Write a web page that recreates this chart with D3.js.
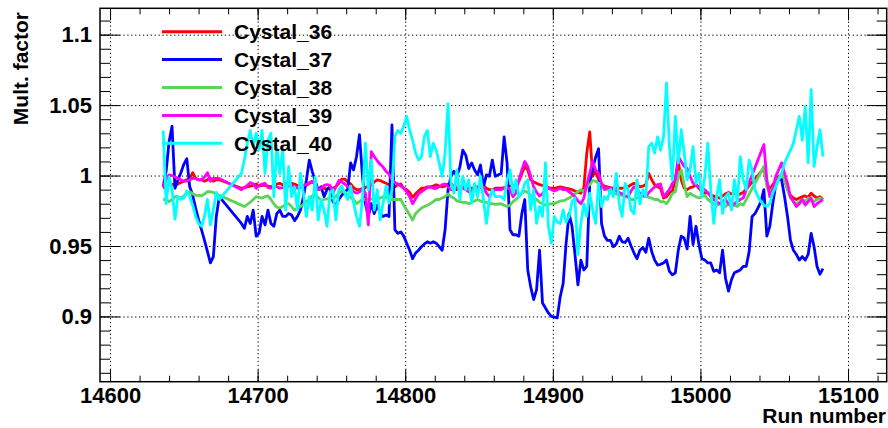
<!DOCTYPE html>
<html>
<head>
<meta charset="utf-8">
<script src="https://cdn.jsdelivr.net/npm/d3@7"></script>
<style>
body { margin: 0; background: #fff; }
svg { display: block; }
text { font-family: "Liberation Sans", Arial, Helvetica, sans-serif; font-weight: bold; fill: #000; }
</style>
</head>
<body>
<div id="chart"></div>
<script>
// data
const runs = [
  14636,14638,14640,14642,14644,14646,14648,14650,14652,14654,14656,14658,14660,14662,14664,14666,14668,14670,14672,14674,
  14689,14691,14693,14695,14697,14699,14701,14703,14705,14707,14709,14711,14713,14715,14717,14719,14721,14723,14725,14727,14729,14731,14733,14735,14737,14739,14741,14743,14745,14747,14749,
  14751,14753,14755,14757,14759,14761,14763,14765,14767,14769,14771,14773,14775,14777,14779,14781,14783,14785,14787,14789,14791,14793,14795,14797,14799,14801,14803,14805,14807,14809,14811,14813,14815,14817,14819,14821,14823,14825,14827,14829,14831,14833,14835,14837,14839,14841,14843,14845,14847,14849,14851,14853,14855,14857,14859,14861,
  14865,14867,14869,14871,14873,14875,14877,14879,14881,14883,14885,14887,14889,14891,14893,14895,14897,14899,14901,14903,14905,14907,14909,14911,14913,14915,14917,14919,14921,14923,14925,14927,14929,14931,14933,14935,14937,14939,14941,14943,14945,14947,14949,14951,14953,14955,14957,14959,14961,14963,14965,14967,14969,14971,14973,
  14975,14977,14979,14981,14983,14985,14987,14989,14991,14993,14995,14997,14999,15001,15003,15005,15007,15009,15011,15013,15015,15017,15019,15021,15023,15025,15027,15029,15031,15033,15035,15037,15039,15041,15043,15045,15047,15049,15051,15053,15055,15057,15059,15061,15063,15065,15067,15069,15071,15073,15075,15077,15079,15081,15083
]

const cystal36 = [
  0.991,0.992,0.9945,0.994,0.993,0.994,0.995,0.996,0.997,0.998,1.002,0.998,0.997,0.997,0.996,0.997,0.998,0.996,0.997,0.997,
  0.991,0.9915,0.992,0.9925,0.993,0.994,0.9925,0.993,0.993,0.9925,0.992,0.993,0.994,0.9945,0.9935,0.994,0.995,0.9945,0.994,0.993,0.993,0.9925,0.993,0.9945,0.9955,0.994,0.990,0.9905,0.991,0.9905,0.9915,
  0.991,0.992,0.9945,0.9975,0.9975,0.9955,0.994,0.9915,0.990,0.990,0.991,0.9915,0.9925,0.9935,0.9955,0.997,0.9965,0.9955,0.9945,0.9935,0.9925,0.992,0.9935,0.994,0.991,0.990,0.988,0.9845,0.987,0.989,0.991,0.991,0.992,0.992,0.9925,0.9935,0.9925,0.992,0.9925,0.994,0.9945,0.992,0.990,0.991,0.992,0.9915,0.991,0.991,0.9915,0.992,0.9925,0.993,0.991,0.990,0.990,0.991,
  0.991,0.9915,0.992,0.9925,0.993,0.9935,0.996,1.0015,1.0065,1.004,0.997,0.9955,0.9945,0.9935,0.993,0.9925,0.9915,0.991,0.991,0.9915,0.992,0.9915,0.991,0.9905,0.990,0.989,0.988,0.9875,0.991,1.016,1.031,0.9995,1.0035,0.997,0.994,0.9925,0.992,0.9915,0.991,0.991,0.991,0.991,0.9915,0.992,0.9935,0.9945,0.9935,0.992,0.9925,0.9935,1.0015,0.997,0.9935,0.992,0.991,
  0.984,0.985,0.9875,0.989,0.997,1.010,0.997,0.991,0.990,0.9915,0.992,0.9935,0.991,0.9885,0.9875,0.988,0.986,0.9855,0.9845,0.984,0.9855,0.987,0.988,0.987,0.9875,0.986,0.987,0.988,
  null,null,null,null,null,null,
  1.005,0.9945,0.990,0.9935,0.996,0.9995,1.0005,0.997,0.990,0.986,0.984,0.983,0.984,0.985,0.9855,0.9845,0.9875,0.9855,0.984,0.985,0.983
]

const cystal37 = [
  0.992,1.003,1.024,1.035,0.991,0.997,1.002,1.008,1.012,0.992,0.986,0.977,0.9685,0.9615,0.954,0.946,0.938,0.9425,0.971,0.985,
  0.966,0.9625,0.971,0.966,0.9755,0.957,0.959,0.971,0.965,0.9755,0.966,0.964,0.973,0.9755,0.971,0.971,0.973,0.972,0.968,0.971,0.9755,0.985,0.9965,1.011,1.003,0.996,0.990,0.992,0.985,0.990,0.992,
  0.9815,0.979,0.983,0.986,0.9885,0.990,1.009,1.004,1.0135,1.029,0.9995,0.980,0.971,0.980,0.973,0.979,0.973,0.971,0.972,0.971,1.036,0.9615,0.959,0.960,0.957,0.952,0.947,0.941,0.945,0.947,0.9495,0.9515,0.953,0.952,0.953,0.952,0.9495,0.947,0.9615,0.990,0.9995,1.003,0.9995,1.006,1.018,1.0145,1.005,1.009,1.004,1.0005,1.0075,0.992,1.0005,0.9995,1.011,0.9995,
  1.0015,1.0275,1.009,0.9615,0.958,0.958,0.957,0.973,0.983,0.933,0.921,0.912,0.919,0.947,0.9095,0.906,0.9025,0.900,0.8995,0.899,0.914,0.9235,0.952,0.973,0.964,0.944,0.9225,0.940,0.933,0.9355,0.9945,1.005,1.013,1.019,0.966,0.957,0.954,0.954,0.9495,0.9515,0.957,0.953,0.9525,0.9555,0.950,0.945,0.941,0.947,0.949,0.9455,0.9555,0.946,0.940,0.9365,0.937,
  0.938,0.940,0.932,0.9295,0.931,0.947,0.957,0.9555,0.948,0.971,0.951,0.964,0.951,0.941,0.940,0.938,0.938,0.932,0.933,0.931,0.947,0.927,0.918,0.926,0.931,0.932,0.933,0.9355,0.9355,0.946,0.971,0.973,0.977,0.9815,0.990,0.957,0.964,0.980,0.9935,0.998,0.997,0.985,0.971,0.954,0.947,0.944,0.940,0.9425,0.940,0.944,0.959,0.9495,0.9355,0.930,0.934
]

const cystal38 = [
  0.983,0.983,0.9815,0.983,0.985,0.985,0.984,0.9855,0.987,0.9885,0.987,0.986,0.986,0.9855,0.987,0.9885,0.9885,0.988,0.987,0.986,
  0.979,0.978,0.9795,0.981,0.983,0.985,0.9845,0.984,0.985,0.9855,0.983,0.980,0.9775,0.977,0.978,0.9795,0.980,0.978,0.9755,0.977,0.978,0.9795,0.9815,0.983,0.9855,0.986,0.9845,0.9825,0.983,0.9835,0.984,
  0.984,0.985,0.9875,0.989,0.9885,0.986,0.9845,0.983,0.980,0.9815,0.983,0.983,0.9835,0.9835,0.983,0.983,0.984,0.985,0.9845,0.984,0.983,0.983,0.983,0.983,0.979,0.9755,0.972,0.9685,0.973,0.975,0.977,0.978,0.979,0.980,0.9815,0.983,0.983,0.984,0.985,0.987,0.985,0.984,0.982,0.9815,0.981,0.981,0.980,0.981,0.982,0.983,0.982,0.981,0.981,0.980,0.980,0.9795,
  0.980,0.979,0.978,0.979,0.9815,0.983,0.985,0.9875,0.989,0.988,0.986,0.9845,0.983,0.981,0.980,0.979,0.9795,0.980,0.980,0.981,0.982,0.982,0.983,0.984,0.9855,0.987,0.9885,0.990,0.9885,0.992,0.9935,0.9965,0.996,0.9945,0.9935,0.991,0.990,0.9885,0.9875,0.987,0.986,0.986,0.985,0.9845,0.983,0.983,0.984,0.985,0.986,0.986,0.9845,0.984,0.983,0.983,0.9815,
  0.9815,0.980,0.983,0.9875,0.9885,0.9995,1.004,0.9935,0.985,0.9875,0.986,0.985,0.984,0.985,0.986,0.983,0.9815,0.980,0.979,0.980,0.979,0.978,0.980,0.9815,0.979,0.978,0.980,0.979,
  null,null,null,null,null,null,
  1.0065,0.992,0.9875,0.991,0.9935,0.998,1.0015,0.997,0.990,0.984,0.9815,0.980,0.9815,0.983,0.9815,0.984,0.983,0.9815,0.983,0.984,0.983
]

const cystal39 = [
  0.992,0.997,1.0005,1.0,0.999,0.998,0.997,0.996,0.996,0.997,0.998,0.998,0.997,0.997,0.999,1.002,0.996,0.998,0.998,0.998,
  0.990,0.9915,0.993,0.995,0.994,0.991,0.993,0.994,0.9945,0.9915,0.991,0.993,0.992,0.991,0.9915,0.992,0.9925,0.993,0.992,0.991,0.9915,0.993,0.9935,0.995,0.996,0.994,0.990,0.991,0.993,0.9935,0.993,
  0.9875,0.992,0.9965,0.9955,0.994,0.992,0.991,0.9885,0.9875,0.9885,0.990,0.9875,0.965,1.017,1.0135,1.0105,1.008,1.006,1.003,1.001,0.997,0.995,0.994,0.9925,0.991,0.9885,0.985,0.980,0.9835,0.987,0.9885,0.990,0.9915,0.992,0.991,0.991,0.992,0.9935,0.994,0.992,0.990,0.991,0.992,0.9915,0.991,0.990,0.9885,0.989,0.990,0.991,0.9915,0.992,0.9875,0.985,0.9885,0.990,
  0.990,0.991,0.9915,0.990,0.985,0.9875,0.997,1.004,1.010,1.0065,0.9995,0.992,0.988,0.9855,0.987,0.990,0.991,0.990,0.989,0.990,0.991,0.990,0.990,0.9885,0.987,0.985,0.982,0.980,0.984,0.9935,1.0015,1.010,1.004,1.0015,0.9945,0.990,0.9915,0.991,0.990,0.989,0.988,0.987,0.9855,0.985,0.989,0.992,0.990,0.9875,0.9855,0.985,0.988,0.990,0.992,0.9935,0.994,
  0.985,0.9875,0.990,0.9945,0.997,1.0135,1.010,1.0065,1.005,0.9995,0.9945,0.9935,0.992,0.991,0.990,0.9875,0.985,0.983,0.9815,0.980,0.9815,0.983,0.980,0.978,0.980,0.9815,0.983,0.984,
  null,null,null,null,null,null,
  1.022,0.997,0.985,0.990,0.9995,1.004,1.009,1.0015,0.9945,0.985,0.9815,0.978,0.980,0.983,0.979,0.9815,0.984,0.978,0.980,0.9815,0.983
]

const cystal40 = [
  1.032,0.980,0.999,0.990,0.969,0.985,0.983,0.984,0.989,0.985,0.979,0.971,0.966,0.964,0.971,0.983,0.965,0.976,0.988,0.983,
  1.0015,1.011,1.023,1.032,1.0205,1.030,1.0185,1.032,1.0015,1.025,1.030,0.985,1.0205,1.0015,1.0185,0.9755,1.0064,0.985,0.992,0.9755,1.0015,0.9875,0.971,0.985,0.9755,0.999,0.9685,0.983,0.9755,0.964,0.9875,
  0.990,0.9685,0.990,0.9925,0.9875,0.983,0.9925,0.9805,0.971,0.964,0.983,1.023,0.990,1.011,0.9755,0.990,0.9685,0.9805,0.9925,0.9805,0.990,1.028,1.032,1.030,1.035,1.042,1.032,1.025,1.016,1.011,1.0135,1.028,1.032,1.0135,1.023,1.018,1.009,0.9995,1.016,1.051,0.9945,0.9875,1.004,0.983,0.9995,0.990,0.997,0.9805,0.9945,0.985,0.9995,0.983,0.966,0.983,0.990,0.985,
  0.985,0.983,0.997,1.004,0.9875,0.997,0.985,0.9875,0.9945,0.997,0.9755,0.990,0.966,0.978,0.971,1.009,0.964,0.952,0.971,0.967,0.966,0.9755,0.967,0.971,0.9815,0.984,0.944,0.966,0.980,0.971,0.9875,0.9755,0.966,0.9945,0.978,0.985,0.983,0.990,0.985,1.0015,0.980,0.971,0.9945,0.990,0.9755,0.973,0.997,0.980,0.990,0.985,1.0205,1.023,1.016,1.0275,1.018,
  1.0275,1.0655,1.0205,0.997,1.042,1.009,1.0325,1.016,0.997,1.004,1.0205,0.9945,1.0015,0.985,0.9995,1.023,0.990,0.966,0.985,0.997,0.973,0.985,0.9875,0.9755,0.997,0.980,1.0135,0.997,0.990,1.011,1.004,0.990,0.985,0.9815,0.979,0.978,0.980,0.9875,0.992,0.997,1.0015,1.009,1.0135,1.018,1.023,1.0325,1.042,1.025,1.049,1.009,1.061,1.0065,1.0205,1.0325,1.0135
]

const seriesNames = ["Cystal_36", "Cystal_37", "Cystal_38", "Cystal_39", "Cystal_40"]
const seriesValues = [cystal36, cystal37, cystal38, cystal39, cystal40]
const seriesColors = ["#ff0000", "#0000ff", "#59d454", "#ff00ff", "#00ffff"]

const xTicks = [14600, 14700, 14800, 14900, 15000, 15100]
const xTickLabels = ["14600", "14700", "14800", "14900", "15000", "15100"]
const yTicks = [0.9, 0.95, 1, 1.05, 1.1]
const yTickLabels = ["0.9", "0.95", "1", "1.05", "1.1"]

// chart
const width = 888
const height = 428
const margin = { top: 8.3, right: 1.3, bottom: 46.3, left: 100 }
const plotW = width - margin.left - margin.right
const plotH = height - margin.top - margin.bottom

const svg = d3.select("div#chart")
  .append("svg")
  .attr("width", width)
  .attr("height", height)

svg.append("rect").attr("width", width).attr("height", height).attr("fill", "#fff")

const x = d3.scaleLinear()
  .domain([14593.2, 15126.2])
  .range([margin.left, width - margin.right])
const y = d3.scaleLinear()
  .domain([0.8537, 1.1187])
  .range([height - margin.bottom, margin.top])

const xMinor = d3.range(14600, 15121, 20)
const yMinor = d3.range(86, 112).map(d => d / 100)

function styleAxis(g) {
  g.select(".domain").remove()
  g.selectAll("line").attr("stroke", "#000").attr("stroke-width", 1)
  g.attr("font-family", null).attr("font-size", 22)
}

// dotted grid
const gridDash = "1.3,2.6"
svg.append("g")
  .attr("transform", `translate(0,${height - margin.bottom})`)
  .call(d3.axisBottom(x).tickValues(xTicks).tickSize(-plotH).tickFormat(""))
  .call(styleAxis)
  .selectAll("line").attr("stroke-dasharray", gridDash)
svg.append("g")
  .attr("transform", `translate(${margin.left},0)`)
  .call(d3.axisLeft(y).tickValues(yTicks).tickSize(-plotW).tickFormat(""))
  .call(styleAxis)
  .selectAll("line").attr("stroke-dasharray", gridDash)

// ticks on all four sides, pointing inward
svg.append("g")
  .attr("transform", `translate(0,${height - margin.bottom})`)
  .call(d3.axisBottom(x).tickValues(xMinor).tickSize(-6).tickFormat(""))
  .call(styleAxis)
svg.append("g")
  .attr("class", "xAxisGroup")
  .attr("transform", `translate(0,${height - margin.bottom})`)
  .call(d3.axisBottom(x).tickValues(xTicks).tickSize(-12).tickPadding(6)
    .tickFormat((d, i) => xTickLabels[i]))
  .call(styleAxis)
svg.append("g")
  .attr("transform", `translate(0,${margin.top})`)
  .call(d3.axisTop(x).tickValues(xMinor).tickSize(-6).tickFormat(""))
  .call(styleAxis)
svg.append("g")
  .attr("transform", `translate(0,${margin.top})`)
  .call(d3.axisTop(x).tickValues(xTicks).tickSize(-12).tickFormat(""))
  .call(styleAxis)

svg.append("g")
  .attr("transform", `translate(${margin.left},0)`)
  .call(d3.axisLeft(y).tickValues(yMinor).tickSize(-10).tickFormat(""))
  .call(styleAxis)
svg.append("g")
  .attr("class", "yAxisGroup")
  .attr("transform", `translate(${margin.left},0)`)
  .call(d3.axisLeft(y).tickValues(yTicks).tickSize(-20).tickPadding(8)
    .tickFormat((d, i) => yTickLabels[i]))
  .call(styleAxis)
svg.append("g")
  .attr("transform", `translate(${width - margin.right},0)`)
  .call(d3.axisRight(y).tickValues(yMinor).tickSize(-10).tickFormat(""))
  .call(styleAxis)
svg.append("g")
  .attr("transform", `translate(${width - margin.right},0)`)
  .call(d3.axisRight(y).tickValues(yTicks).tickSize(-20).tickFormat(""))
  .call(styleAxis)

// frame
svg.append("rect")
  .attr("x", margin.left).attr("y", margin.top)
  .attr("width", plotW).attr("height", plotH)
  .attr("fill", "none").attr("stroke", "#000").attr("stroke-width", 1.5)

// lines
const line = d3.line().x(d => x(d[0])).y(d => y(d[1]))
seriesValues.forEach((vals, k) => {
  const pts = runs.map((r, i) => [r, vals[i]]).filter(p => p[1] !== null)
  svg.append("path")
    .datum(pts)
    .attr("d", line)
    .attr("fill", "none")
    .attr("stroke", seriesColors[k])
    .attr("stroke-width", 2.8)
    .attr("stroke-linejoin", "round")
})

// legend
const legend = svg.append("g").attr("class", "legend")
seriesNames.forEach((name, k) => {
  const ly = 31.7 + k * 27.9
  legend.append("line")
    .attr("x1", 162).attr("x2", 222).attr("y1", ly).attr("y2", ly)
    .attr("stroke", seriesColors[k]).attr("stroke-width", 3)
  legend.append("text")
    .attr("x", 234).attr("y", ly).attr("dy", "0.36em")
    .attr("font-size", 21)
    .text(name)
})

// titles
svg.append("text")
  .attr("transform", `translate(28,12) rotate(-90)`)
  .attr("text-anchor", "end")
  .attr("font-size", 21)
  .text("Mult. factor")
svg.append("text")
  .attr("x", 886).attr("y", 423)
  .attr("text-anchor", "end")
  .attr("font-size", 21)
  .text("Run number")
</script>
</body>
</html>
